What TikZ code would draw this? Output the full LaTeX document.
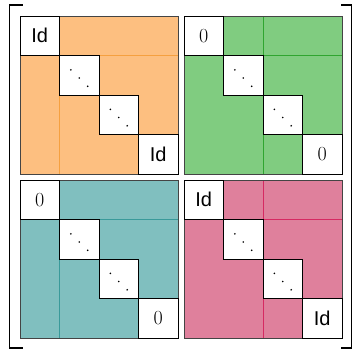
\documentclass[tikz,border=0pt]{standalone}
\usepackage{fontspec}
\newfontfamily\idfont{Liberation Sans}
\definecolor{cOrange}{HTML}{FDBF80}
\definecolor{cOrangeL}{HTML}{F5A040}
\definecolor{cGreen}{HTML}{80CC80}
\definecolor{cGreenL}{HTML}{30A530}
\definecolor{cTeal}{HTML}{80BFBF}
\definecolor{cTealL}{HTML}{3A9A9A}
\definecolor{cPink}{HTML}{DF809C}
\definecolor{cPinkL}{HTML}{D62A62}
\definecolor{cBorder}{HTML}{444444}
\tikzset{
  cellbox/.style={draw=black, fill=white, line width=0.8pt, minimum size=39.5pt, inner sep=0pt, font=\fontsize{20}{24}\selectfont},
  blockborder/.style={draw=cBorder, line width=0.9pt},
  gridline/.style={line width=0.5pt},
  bracket/.style={line width=1.4pt, line cap=butt},
  dotmark/.style={fill=black}
}
% #1 name, #2 x0, #3 y0, #4 fill, #5 line colour, #6 column index of vertical line, #7 corner label
\newcommand\drawblockmat[7]{%
  \fill[#4] (#2,#3) rectangle ++(158,158);
  \draw[gridline, #5] (#2,#3+39.5) -- ++(158,0);
  \draw[gridline, #5] (#2+#6*39.5,#3) -- ++(0,158);
  \draw[blockborder] (#2,#3) rectangle ++(158,158);
  \node[cellbox] (#1-0) at (#2+19.75,#3+19.75) {#7};
  \node[cellbox] (#1-1) at (#2+59.25,#3+59.25) {};
  \node[cellbox] (#1-2) at (#2+98.75,#3+98.75) {};
  \node[cellbox] (#1-3) at (#2+138.25,#3+138.25) {#7};
  \foreach \c in {1,2}{
    \fill[dotmark] ([shift={(-8.4,-5.4)}]#1-\c.center) circle (0.9pt);
    \fill[dotmark] ([shift={(0,2.8)}]#1-\c.center) circle (0.9pt);
    \fill[dotmark] ([shift={(8.4,11)}]#1-\c.center) circle (0.9pt);
  }
}
\begin{document}
\begin{tikzpicture}[x=1pt,y=-1pt]
\useasboundingbox (0,0) rectangle (353,349);
\drawblockmat{A}{20}{16}{cOrange}{cOrangeL}{1}{{\idfont Id}}
\drawblockmat{B}{184}{16}{cGreen}{cGreenL}{2}{0}
\drawblockmat{C}{20}{180}{cTeal}{cTealL}{1}{0}
\drawblockmat{D}{184}{180}{cPink}{cPinkL}{2}{{\idfont Id}}
\draw[bracket] (22.5,5) -- (9.5,5) -- (9.5,348) -- (22.5,348);
\draw[bracket] (341,5) -- (351.5,5) -- (351.5,348) -- (341,348);
\end{tikzpicture}
\end{document}
